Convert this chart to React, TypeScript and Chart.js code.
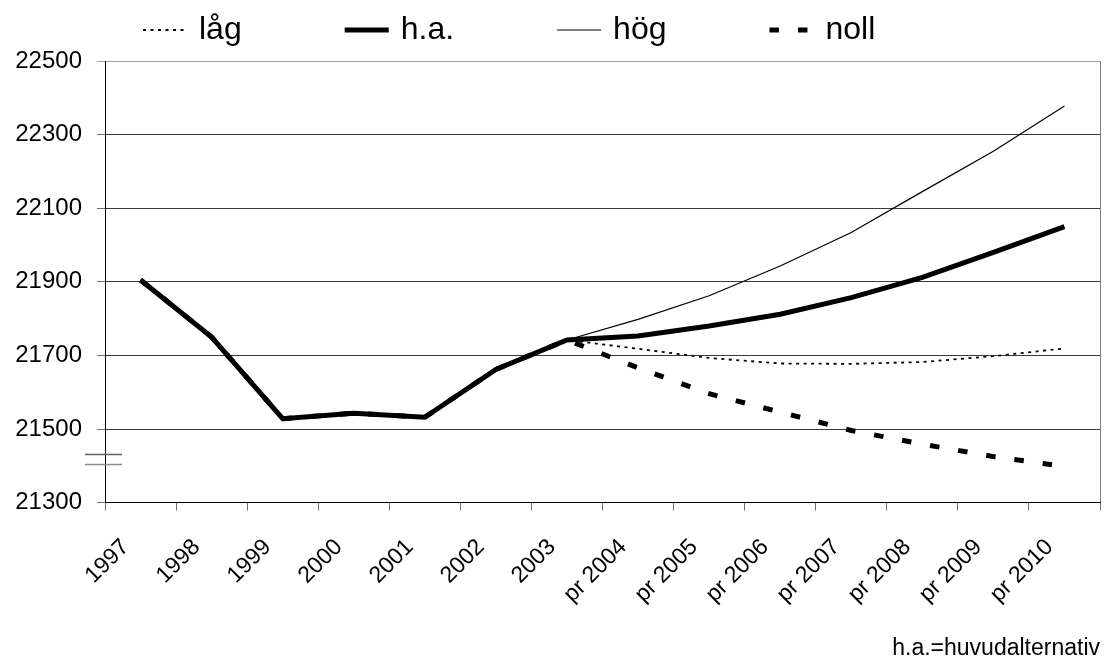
import { useEffect, useRef } from 'react';
import Chart from 'chart.js/auto';

const categories = ['1997', '1998', '1999', '2000', '2001', '2002', '2003', 'pr 2004', 'pr 2005', 'pr 2006', 'pr 2007', 'pr 2008', 'pr 2009', 'pr 2010'];
const lagValues = [21905, 21750, 21528, 21543, 21532, 21662, 21742, 21718, 21693, 21678, 21677, 21682, 21698, 21719];
const haValues = [21905, 21750, 21528, 21543, 21532, 21662, 21742, 21753, 21780, 21812, 21857, 21912, 21980, 22050];
const hogValues = [21905, 21750, 21528, 21543, 21532, 21662, 21742, 21798, 21862, 21943, 22034, 22145, 22255, 22378];
const nollValues = [21905, 21750, 21528, 21543, 21532, 21662, 21742, 21666, 21596, 21546, 21496, 21459, 21425, 21398];
const yMin = 21300;
const yMax = 22500;
const yStep = 200;
const breakValues = [21433, 21406];
const footnote = 'h.a.=huvudalternativ';

const FONT = '"Liberation Sans", Arial, sans-serif';

const legendPlugin = {
  id: 'customLegend',
  afterDraw(chart: any) {
    const ctx = chart.ctx;
    ctx.save();
    ctx.font = `32px ${FONT}`;
    ctx.textBaseline = 'middle';
    ctx.textAlign = 'left';
    let x = 143;
    const y = 30;
    chart.data.datasets.forEach((ds: any) => {
      ctx.beginPath();
      ctx.setLineDash(ds.borderDash || []);
      ctx.lineDashOffset = 0;
      ctx.lineWidth = ds.borderWidth;
      ctx.strokeStyle = ds.borderColor;
      ctx.moveTo(x, y);
      ctx.lineTo(x + 44, y);
      ctx.stroke();
      ctx.setLineDash([]);
      ctx.fillStyle = '#000';
      ctx.fillText(ds.label, x + 56, y);
      x += 56 + ctx.measureText(ds.label).width + 103;
    });
    ctx.restore();
  },
};

const breakPlugin = {
  id: 'axisBreak',
  afterDraw(chart: any) {
    const ctx = chart.ctx;
    const yScale = chart.scales.y;
    const left = chart.chartArea.left;
    ctx.save();
    ctx.lineWidth = 1.5;
    const colors = ['#606060', '#8c8c8c'];
    breakValues.forEach((v, i) => {
      const py = Math.round(yScale.getPixelForValue(v)) + 0.5;
      ctx.strokeStyle = colors[i];
      ctx.beginPath();
      ctx.moveTo(left - 20, py);
      ctx.lineTo(left + 17, py);
      ctx.stroke();
    });
    ctx.restore();
  },
};

export default function App() {
  const ref = useRef<HTMLCanvasElement | null>(null);
  useEffect(() => {
    if (!ref.current) return;
    const chart = new Chart(ref.current, {
      type: 'line',
      data: {
        labels: categories,
        datasets: [
          { label: 'låg', data: lagValues, borderColor: '#000', borderWidth: 1.8, borderDash: [3, 4.5], pointRadius: 0, tension: 0, order: 2, fill: false },
          { label: 'h.a.', data: haValues, borderColor: '#000', borderWidth: 5, pointRadius: 0, tension: 0, order: 0, fill: false },
          { label: 'hög', data: hogValues, borderColor: '#000', borderWidth: 1.2, pointRadius: 0, tension: 0, order: 3, fill: false },
          { label: 'noll', data: nollValues, borderColor: '#000', borderWidth: 5, borderDash: [9.5, 19], pointRadius: 0, tension: 0, order: 1, fill: false },
        ],
      },
      options: {
        animation: false,
        responsive: true,
        maintainAspectRatio: false,
        devicePixelRatio: 1,
        layout: { padding: { top: 61, right: 8, left: 0, bottom: 0 } },
        plugins: {
          legend: { display: false },
          tooltip: { enabled: false },
          title: {
            display: true,
            text: footnote,
            position: 'bottom',
            align: 'end',
            color: '#000',
            font: { family: FONT, size: 23, lineHeight: 0.8, weight: 'normal' },
            padding: { top: 0, bottom: 0 },
          },
        },
        scales: {
          x: {
            offset: true,
            afterFit: (s: any) => { s.height = 137; },
            grid: {
              offset: true,
              drawOnChartArea: true,
              drawTicks: true,
              tickLength: 8,
              tickColor: '#707070',
              color: (c: any) => (c.type === 'scale' ? '#808080' : 'rgba(0,0,0,0)'),
            },
            border: { display: true, color: '#000', width: 1 },
            ticks: {
              autoSkip: false,
              minRotation: 45,
              maxRotation: 45,
              padding: 23,
              labelOffset: -15,
              color: '#000',
              font: { family: FONT, size: 23 },
            },
          },
          y: {
            min: yMin,
            max: yMax,
            afterFit: (s: any) => { s.width = 105; },
            grid: {
              drawTicks: true,
              tickLength: 8,
              color: (c: any) => (c.tick && c.tick.value === yMax ? '#a0a0a0' : '#3a3a3a'),
              tickColor: (c: any) => (c.tick && c.tick.value === yMax ? '#a0a0a0' : '#707070'),
            },
            border: { display: true, color: '#000', width: 1 },
            ticks: {
              stepSize: yStep,
              padding: 15,
              color: '#000',
              font: { family: FONT, size: 24 },
              callback: (v: any) => String(v),
            },
          },
        },
      },
      plugins: [legendPlugin, breakPlugin],
    });
    return () => chart.destroy();
  }, []);
  return (
    <div style={{ position: 'fixed', left: 0, top: 0, width: 1108, height: 658, background: '#fff' }}>
      <canvas ref={ref} />
    </div>
  );
}
